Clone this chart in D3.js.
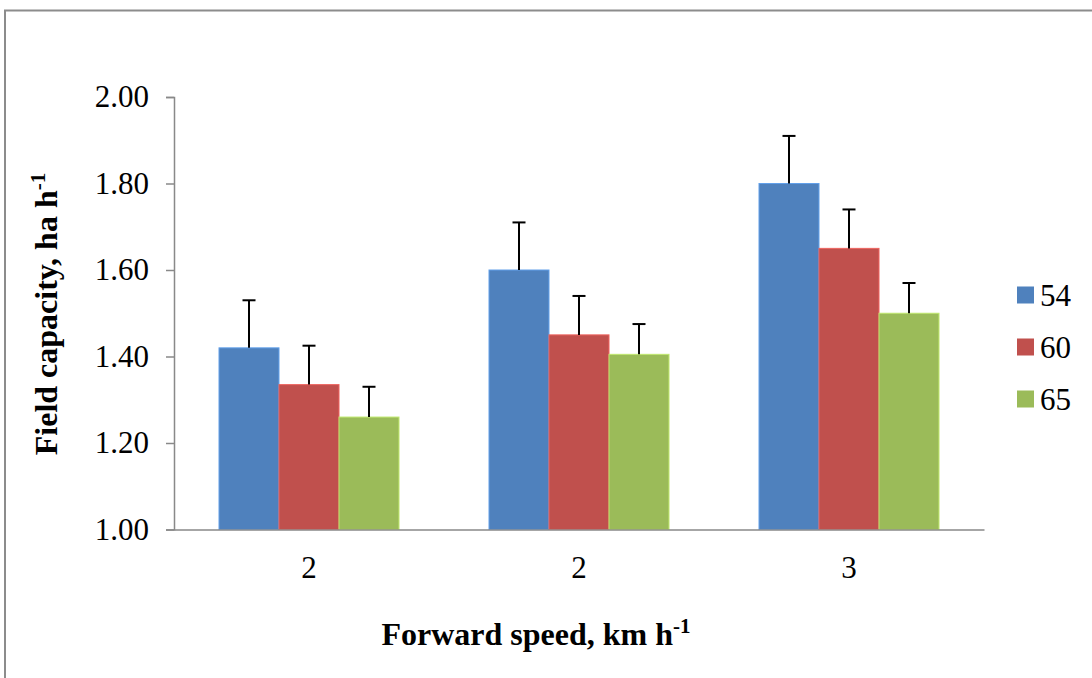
<!DOCTYPE html>
<html>
<head>
<meta charset="utf-8">
<script src="https://cdn.jsdelivr.net/npm/d3@7/dist/d3.min.js"></script>
<style>
  html, body { margin: 0; padding: 0; background: #fff; }
  svg { display: block; font-family: "Liberation Serif", "Times New Roman", serif; }
</style>
</head>
<body>
<svg id="chart" width="1092" height="678"></svg>
<script>
// Forward speed categories (labels as printed on the axis)
const categories = ["2", "2", "3"];
// Series (legend entries)
const seriesNames = ["54", "60", "65"];
const seriesColors = ["#4F81BD", "#C0504D", "#9BBB59"];
// Field capacity means, ha h-1, per series across categories
const values54 = [1.42, 1.60, 1.80];
const values60 = [1.335, 1.45, 1.65];
const values65 = [1.26, 1.405, 1.50];
// Upper error bar lengths per series
const errors54 = [0.11, 0.11, 0.11];
const errors60 = [0.09, 0.09, 0.09];
const errors65 = [0.07, 0.07, 0.07];
// Y axis ticks
const yTicks = [1.00, 1.20, 1.40, 1.60, 1.80, 2.00];

const seriesValues = [values54, values60, values65];
const seriesErrors = [errors54, errors60, errors65];

const serif = "Liberation Serif, Times New Roman, serif";
const svg = d3.select("#chart");

// outer chart frame
svg.append("rect")
  .attr("x", 5).attr("y", 10.5)
  .attr("width", 1200).attr("height", 800)
  .attr("fill", "none")
  .attr("stroke", "#8c8c8c")
  .attr("stroke-width", 2);

const plot = { left: 174, right: 984, top: 97, bottom: 529.5 };

const x0 = d3.scaleBand()
  .domain(categories.map((c, i) => i))
  .range([plot.left, plot.right])
  .paddingInner(1 / 3)
  .paddingOuter(1 / 6);

const x1 = d3.scaleBand()
  .domain(seriesNames.map((s, i) => i))
  .range([0, x0.bandwidth()]);

const y = d3.scaleLinear()
  .domain([1.0, 2.0])
  .range([plot.bottom, plot.top]);

// bars
const rows = [];
categories.forEach((c, ci) => {
  seriesNames.forEach((s, si) => {
    rows.push({ ci, si, v: seriesValues[si][ci], e: seriesErrors[si][ci] });
  });
});

const g = svg.append("g");

g.selectAll("rect.bar")
  .data(rows)
  .join("rect")
  .attr("class", "bar")
  .attr("x", d => x0(d.ci) + x1(d.si))
  .attr("y", d => y(d.v))
  .attr("width", x1.bandwidth())
  .attr("height", d => y(1.0) - y(d.v))
  .attr("fill", d => seriesColors[d.si])
  .attr("stroke", d => d3.color(seriesColors[d.si]).brighter(0.6))
  .attr("stroke-width", 1);

// error bars (upper only)
const eb = g.selectAll("g.err")
  .data(rows)
  .join("g")
  .attr("class", "err")
  .attr("stroke", "#000")
  .attr("stroke-width", 2);

eb.append("line")
  .attr("x1", d => x0(d.ci) + x1(d.si) + x1.bandwidth() / 2)
  .attr("x2", d => x0(d.ci) + x1(d.si) + x1.bandwidth() / 2)
  .attr("y1", d => y(d.v))
  .attr("y2", d => y(d.v + d.e));

eb.append("line")
  .attr("x1", d => x0(d.ci) + x1(d.si) + x1.bandwidth() / 2 - 6.5)
  .attr("x2", d => x0(d.ci) + x1(d.si) + x1.bandwidth() / 2 + 6.5)
  .attr("y1", d => y(d.v + d.e))
  .attr("y2", d => y(d.v + d.e));

// y axis
const yAxis = svg.append("g")
  .attr("transform", `translate(${plot.left},0)`)
  .call(d3.axisLeft(y)
    .tickValues(yTicks)
    .tickFormat(d3.format(".2f"))
    .tickSize(8)
    .tickPadding(17));
yAxis.select(".domain").attr("stroke", "#898989").attr("stroke-width", 1.5);
yAxis.selectAll(".tick line").attr("stroke", "#898989").attr("stroke-width", 1.5);
yAxis.selectAll(".tick text")
  .attr("font-family", serif)
  .attr("font-size", 31)
  .attr("fill", "#000");

// x axis
const xAxis = svg.append("g")
  .attr("transform", `translate(0,${plot.bottom})`)
  .call(d3.axisBottom(x0)
    .tickFormat(i => categories[i])
    .tickSize(0)
    .tickSizeOuter(0)
    .tickPadding(26));
xAxis.select(".domain").attr("stroke", "#898989").attr("stroke-width", 1.5);
xAxis.selectAll(".tick text")
  .attr("font-family", serif)
  .attr("font-size", 31)
  .attr("fill", "#000");

// axis titles
const xTitle = svg.append("text")
  .attr("x", 536)
  .attr("y", 645)
  .attr("text-anchor", "middle")
  .attr("font-family", serif)
  .attr("font-size", 32)
  .attr("font-weight", "bold")
  .attr("fill", "#000");
xTitle.append("tspan").text("Forward speed, km h");
xTitle.append("tspan").attr("font-size", 21).attr("dy", -12).text("-1");

const yTitle = svg.append("text")
  .attr("transform", "translate(57,314) rotate(-90)")
  .attr("text-anchor", "middle")
  .attr("font-family", serif)
  .attr("font-size", 32)
  .attr("font-weight", "bold")
  .attr("fill", "#000");
yTitle.append("tspan").text("Field capacity, ha h");
yTitle.append("tspan").attr("font-size", 21).attr("dy", -12).text("-1");

// legend
const legend = svg.append("g")
  .selectAll("g")
  .data(seriesNames)
  .join("g")
  .attr("transform", (d, i) => `translate(1017,${295 + i * 52})`);

legend.append("rect")
  .attr("x", 0).attr("y", -8.5)
  .attr("width", 17).attr("height", 17)
  .attr("fill", (d, i) => seriesColors[i]);

legend.append("text")
  .attr("x", 23)
  .attr("y", 11)
  .attr("font-family", serif)
  .attr("font-size", 31)
  .attr("fill", "#000")
  .text(d => d);
</script>
</body>
</html>
